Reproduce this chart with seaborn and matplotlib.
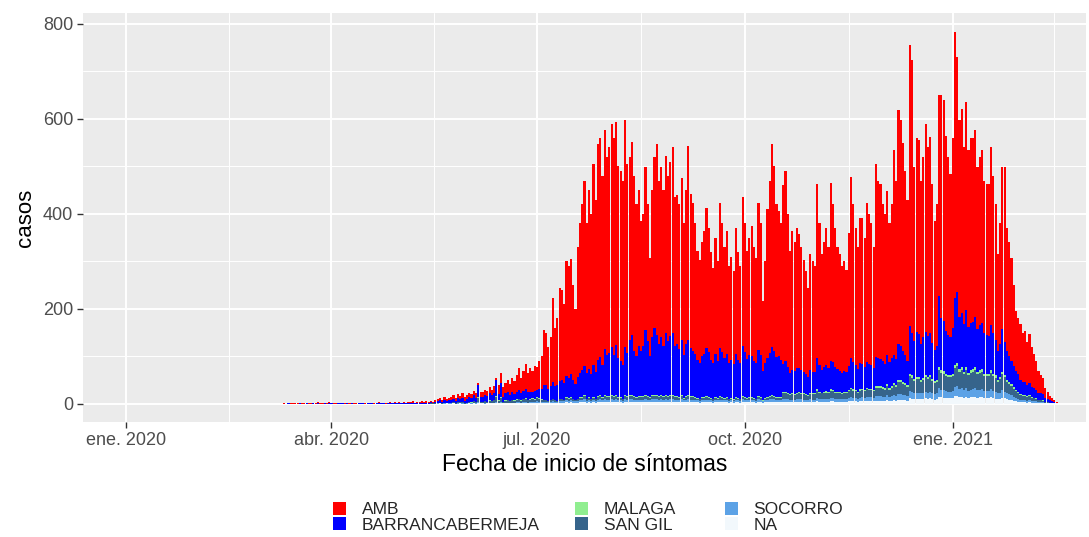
import pandas as pd
import numpy as np
import seaborn as sns
import matplotlib.pyplot as plt
import matplotlib.dates as mdates
from matplotlib.patches import Patch

# --- daily cases by symptom onset, one row per week, first day 2020-03-08 ---

amb = [
    0, 0, 0, 1, 0, 1, 1,
    1, 2, 1, 2, 2, 1, 1,
    2, 1, 2, 2, 3, 1, 2,
    2, 2, 3, 2, 2, 1, 2,
    1, 2, 1, 1, 1, 1, 1,
    1, 1, 2, 1, 1, 1, 2,
    1, 1, 2, 2, 1, 2, 1,
    2, 2, 1, 3, 2, 2, 1,
    2, 2, 3, 2, 3, 2, 3,
    3, 3, 2, 4, 3, 3, 2,
    4, 4, 4, 5, 5, 5, 5,
    6, 7, 6, 7, 6, 9, 7,
    8, 9, 8, 10, 9, 5, 10,
    10, 11, 11, 13, 12, 14, 4,
    20, 21, 20, 23, 25, 23, 30,
    28, 35, 46, 33, 42, 53, 40,
    50, 44, 52, 48, 58, 68, 116,
    110, 88, 103, 178, 122, 140, 196,
    189, 166, 241, 235, 242, 200, 158,
    273, 314, 349, 391, 315, 377, 337,
    425, 363, 456, 460, 399, 461, 418,
    433, 470, 458, 468, 404, 400, 388,
    477, 399, 385, 406, 368, 320, 328,
    274, 278, 343, 288, 208, 310, 360,
    403, 343, 358, 328, 373, 348, 367,
    390, 313, 313, 304, 340, 277, 323,
    409, 326, 310, 274, 230, 215, 239,
    259, 296, 262, 227, 200, 244, 210,
    307, 271, 234, 259, 203, 217, 196,
    265, 227, 203, 312, 271, 229, 247,
    274, 240, 221, 309, 277, 148, 214,
    314, 362, 428, 389, 321, 306, 287,
    375, 400, 322, 257, 293, 271, 296,
    283, 259, 235, 217, 188, 245, 233,
    223, 368, 299, 244, 263, 289, 255,
    375, 332, 293, 257, 246, 225, 231,
    214, 280, 381, 331, 289, 256, 306,
    308, 272, 333, 316, 298, 255, 407,
    373, 369, 330, 315, 346, 292, 323,
    430, 376, 492, 475, 438, 389, 339,
    591, 574, 366, 408, 408, 344, 380,
    439, 398, 412, 336, 273, 299, 423,
    469, 466, 411, 374, 344, 401, 561,
    494, 414, 428, 372, 438, 373, 389,
    387, 394, 340, 354, 363, 321, 318,
    320, 373, 331, 285, 205, 253, 340,
    367, 260, 239, 217, 170, 127, 116,
    118, 103, 107, 90, 103, 84, 72,
    60, 46, 38, 35, 22, 15, 9,
    6, 3, 2,
]

barranca = [
    0, 0, 0, 0, 0, 1, 0,
    0, 0, 0, 1, 0, 0, 1,
    0, 0, 1, 0, 1, 0, 0,
    1, 0, 1, 1, 0, 0, 1,
    1, 1, 0, 1, 0, 1, 0,
    0, 1, 1, 1, 0, 1, 1,
    1, 0, 1, 2, 1, 1, 0,
    1, 2, 1, 2, 1, 2, 1,
    2, 1, 2, 2, 3, 1, 2,
    2, 3, 2, 3, 2, 3, 2,
    3, 4, 5, 3, 6, 4, 5,
    6, 7, 5, 8, 6, 9, 5,
    7, 10, 8, 12, 9, 25, 10,
    10, 12, 11, 14, 12, 15, 35,
    12, 30, 10, 14, 16, 12, 16,
    12, 15, 18, 14, 17, 20, 16,
    15, 14, 18, 16, 20, 22, 30,
    31, 25, 28, 35, 29, 33, 38,
    40, 35, 45, 43, 48, 39, 33,
    46, 51, 56, 61, 54, 58, 52,
    66, 56, 76, 81, 66, 96, 86,
    91, 101, 86, 106, 81, 76, 71,
    101, 91, 116, 126, 96, 86, 106,
    96, 106, 136, 116, 86, 121, 141,
    126, 111, 121, 106, 131, 116, 124,
    131, 106, 111, 101, 116, 91, 111,
    116, 101, 96, 91, 81, 76, 86,
    91, 101, 94, 81, 76, 91, 78,
    101, 94, 84, 91, 76, 81, 74,
    91, 81, 76, 106, 94, 82, 88,
    86, 78, 76, 96, 88, 61, 74,
    81, 91, 101, 94, 84, 86, 78,
    60, 65, 55, 45, 50, 48, 52,
    50, 48, 45, 42, 38, 48, 45,
    45, 65, 55, 48, 52, 55, 50,
    60, 58, 52, 48, 45, 42, 44,
    42, 50, 62, 58, 52, 48, 55,
    52, 48, 55, 52, 50, 45, 62,
    60, 58, 55, 52, 62, 55, 60,
    60, 55, 75, 72, 65, 58, 52,
    100, 90, 80, 95, 90, 75, 85,
    90, 85, 88, 75, 65, 70, 150,
    110, 105, 90, 85, 80, 95, 140,
    150, 110, 115, 100, 120, 95, 100,
    100, 105, 90, 95, 98, 85, 82,
    80, 95, 85, 75, 60, 70, 90,
    70, 60, 55, 50, 45, 40, 38,
    30, 28, 28, 24, 26, 22, 20,
    18, 15, 13, 12, 8, 6, 5,
    4, 3, 2,
]

san_gil = [
    0, 0, 0, 0, 0, 0, 0,
    0, 0, 0, 0, 0, 0, 0,
    0, 0, 0, 0, 0, 0, 0,
    0, 0, 0, 0, 0, 0, 0,
    0, 0, 0, 0, 0, 0, 0,
    0, 0, 0, 0, 0, 0, 0,
    0, 0, 0, 0, 0, 0, 0,
    0, 0, 0, 0, 0, 0, 0,
    0, 0, 0, 0, 0, 0, 0,
    0, 0, 0, 0, 0, 1, 1,
    1, 1, 2, 1, 2, 1, 2,
    2, 2, 1, 3, 2, 3, 2,
    2, 3, 2, 3, 3, 8, 3,
    3, 4, 3, 4, 4, 5, 10,
    4, 8, 3, 4, 5, 4, 5,
    4, 5, 6, 4, 5, 6, 5,
    5, 6, 5, 7, 6, 5, 4,
    3, 2, 3, 4, 3, 2, 4,
    3, 2, 4, 4, 4, 3, 2,
    3, 4, 4, 5, 3, 4, 3,
    4, 3, 5, 5, 4, 6, 5,
    5, 6, 5, 6, 4, 4, 3,
    6, 5, 6, 6, 5, 4, 5,
    5, 5, 6, 5, 4, 6, 6,
    6, 5, 6, 5, 6, 5, 6,
    6, 5, 5, 4, 6, 3, 5,
    6, 5, 5, 4, 3, 3, 4,
    4, 5, 4, 3, 3, 4, 3,
    5, 4, 3, 4, 3, 3, 2,
    4, 3, 3, 5, 4, 3, 4,
    4, 3, 3, 5, 4, 1, 3,
    4, 5, 6, 5, 4, 4, 4,
    12, 13, 11, 10, 11, 10, 11,
    12, 11, 11, 10, 9, 11, 11,
    11, 15, 13, 12, 12, 13, 12,
    15, 14, 13, 12, 12, 11, 12,
    12, 14, 16, 15, 14, 13, 15,
    15, 14, 16, 15, 15, 14, 18,
    18, 18, 17, 16, 19, 16, 18,
    22, 20, 26, 25, 24, 22, 20,
    32, 30, 26, 28, 28, 25, 27,
    30, 28, 30, 27, 24, 25, 38,
    35, 34, 32, 30, 30, 32, 40,
    42, 36, 38, 34, 38, 33, 35,
    36, 38, 34, 35, 36, 32, 32,
    32, 35, 32, 30, 25, 28, 33,
    30, 25, 22, 20, 17, 14, 13,
    10, 9, 9, 8, 9, 7, 6,
    5, 4, 4, 3, 2, 2, 1,
    1, 1, 0,
]

socorro = [
    0, 0, 0, 0, 0, 0, 0,
    0, 0, 0, 0, 0, 0, 0,
    0, 0, 0, 0, 0, 0, 0,
    0, 0, 0, 0, 0, 0, 0,
    0, 0, 0, 0, 0, 0, 0,
    0, 0, 0, 0, 0, 0, 0,
    0, 0, 0, 0, 0, 0, 0,
    0, 0, 0, 0, 0, 0, 0,
    0, 0, 0, 0, 0, 0, 0,
    0, 0, 0, 0, 0, 0, 0,
    0, 1, 0, 0, 1, 0, 1,
    1, 1, 0, 1, 1, 1, 0,
    1, 1, 1, 2, 1, 4, 1,
    1, 2, 1, 2, 1, 2, 4,
    2, 4, 1, 2, 2, 2, 2,
    2, 2, 3, 2, 3, 3, 2,
    2, 3, 2, 3, 3, 2, 2,
    3, 2, 3, 3, 3, 2, 3,
    4, 3, 4, 4, 5, 4, 3,
    4, 5, 5, 6, 4, 5, 4,
    5, 4, 5, 6, 5, 6, 5,
    5, 6, 5, 6, 5, 5, 4,
    6, 5, 6, 6, 5, 5, 5,
    5, 5, 6, 5, 5, 6, 6,
    6, 5, 6, 5, 6, 5, 6,
    6, 5, 5, 5, 6, 4, 5,
    6, 5, 5, 5, 4, 4, 5,
    5, 5, 5, 4, 4, 5, 4,
    5, 5, 4, 5, 4, 4, 4,
    5, 4, 4, 5, 5, 4, 5,
    5, 4, 4, 5, 5, 3, 4,
    5, 5, 6, 5, 5, 5, 5,
    6, 6, 5, 5, 5, 5, 5,
    6, 5, 5, 5, 4, 5, 5,
    5, 7, 6, 5, 6, 6, 6,
    7, 7, 6, 6, 6, 5, 6,
    6, 7, 8, 7, 7, 6, 7,
    8, 7, 8, 8, 8, 7, 9,
    9, 9, 8, 8, 10, 8, 9,
    10, 9, 12, 12, 11, 10, 9,
    15, 14, 12, 13, 13, 12, 13,
    14, 13, 14, 12, 11, 12, 18,
    16, 16, 15, 14, 14, 15, 19,
    20, 17, 18, 16, 18, 15, 16,
    17, 18, 16, 16, 17, 15, 15,
    15, 17, 15, 14, 12, 13, 16,
    14, 12, 11, 10, 8, 7, 6,
    5, 4, 4, 4, 4, 3, 3,
    3, 2, 2, 2, 1, 1, 1,
    1, 0, 0,
]

malaga = [
    0, 0, 0, 0, 0, 0, 0,
    0, 0, 0, 0, 0, 0, 0,
    0, 0, 0, 0, 0, 0, 0,
    0, 0, 0, 0, 0, 0, 0,
    0, 0, 0, 0, 0, 0, 0,
    0, 0, 0, 0, 0, 0, 0,
    0, 0, 0, 0, 0, 0, 0,
    0, 0, 0, 0, 0, 0, 0,
    0, 0, 0, 0, 0, 0, 0,
    0, 0, 0, 0, 0, 0, 0,
    0, 0, 0, 0, 0, 0, 0,
    0, 0, 0, 1, 0, 0, 0,
    0, 0, 1, 0, 0, 1, 0,
    0, 1, 0, 1, 0, 1, 1,
    1, 1, 0, 1, 1, 0, 1,
    1, 1, 1, 1, 1, 1, 1,
    1, 1, 1, 1, 1, 1, 1,
    1, 1, 1, 1, 1, 1, 1,
    1, 1, 2, 1, 2, 1, 1,
    1, 2, 2, 2, 1, 2, 1,
    2, 1, 2, 2, 2, 2, 2,
    2, 2, 2, 2, 2, 2, 1,
    2, 2, 2, 2, 2, 1, 2,
    2, 2, 2, 2, 1, 2, 2,
    2, 2, 2, 2, 2, 2, 2,
    2, 2, 2, 2, 2, 1, 2,
    2, 2, 2, 2, 1, 1, 2,
    2, 2, 2, 1, 1, 2, 1,
    2, 2, 1, 2, 1, 1, 1,
    2, 1, 1, 2, 2, 1, 2,
    2, 1, 1, 2, 2, 1, 1,
    2, 2, 2, 2, 2, 2, 2,
    2, 2, 2, 2, 2, 2, 2,
    2, 2, 2, 2, 2, 2, 2,
    2, 3, 2, 2, 2, 3, 2,
    3, 3, 2, 2, 2, 2, 2,
    2, 3, 3, 3, 3, 2, 3,
    3, 3, 3, 3, 3, 3, 3,
    3, 3, 3, 3, 4, 3, 3,
    4, 3, 4, 4, 4, 4, 3,
    5, 5, 4, 5, 5, 4, 4,
    5, 5, 5, 4, 4, 4, 6,
    6, 6, 5, 5, 5, 5, 7,
    7, 6, 6, 5, 6, 5, 6,
    6, 6, 5, 6, 6, 5, 5,
    5, 6, 5, 5, 4, 5, 6,
    5, 4, 4, 3, 3, 2, 2,
    2, 2, 2, 1, 2, 1, 1,
    1, 1, 1, 1, 0, 0, 0,
    0, 0, 0,
]

sin_dato = [
    0, 0, 0, 0, 0, 0, 0,
    0, 0, 0, 0, 0, 0, 0,
    0, 0, 0, 0, 0, 0, 0,
    0, 0, 0, 0, 0, 0, 0,
    0, 0, 0, 0, 0, 0, 0,
    0, 0, 0, 0, 0, 0, 0,
    0, 0, 0, 0, 0, 0, 0,
    0, 0, 0, 0, 0, 0, 0,
    0, 0, 0, 0, 0, 0, 0,
    0, 0, 0, 0, 0, 0, 0,
    0, 0, 1, 0, 0, 1, 0,
    0, 1, 0, 0, 1, 0, 0,
    0, 1, 0, 1, 0, 1, 1,
    1, 0, 1, 1, 1, 1, 1,
    1, 1, 1, 1, 1, 1, 1,
    1, 2, 1, 1, 2, 2, 1,
    2, 2, 2, 3, 2, 2, 2,
    2, 2, 2, 3, 2, 2, 3,
    3, 3, 4, 3, 4, 3, 3,
    3, 4, 4, 5, 3, 4, 3,
    4, 3, 4, 5, 4, 5, 4,
    4, 5, 4, 5, 4, 4, 3,
    5, 4, 5, 5, 4, 4, 4,
    4, 4, 5, 4, 4, 5, 5,
    5, 4, 5, 4, 5, 4, 5,
    5, 4, 4, 4, 5, 4, 4,
    5, 4, 4, 4, 4, 3, 4,
    4, 4, 4, 4, 3, 4, 4,
    4, 4, 4, 4, 3, 4, 3,
    4, 4, 3, 5, 4, 4, 4,
    4, 4, 3, 5, 4, 3, 4,
    4, 5, 5, 5, 4, 4, 4,
    5, 5, 5, 4, 4, 4, 5,
    5, 5, 4, 4, 4, 5, 4,
    4, 6, 5, 5, 5, 5, 5,
    6, 6, 5, 5, 5, 5, 5,
    5, 6, 7, 6, 6, 5, 6,
    6, 6, 7, 6, 6, 6, 7,
    7, 7, 7, 6, 8, 6, 7,
    8, 7, 9, 9, 8, 8, 7,
    12, 11, 10, 11, 11, 10, 11,
    12, 11, 12, 10, 9, 10, 15,
    14, 13, 12, 12, 12, 12, 16,
    17, 14, 15, 13, 15, 13, 14,
    14, 15, 13, 14, 14, 12, 12,
    12, 14, 12, 11, 10, 11, 13,
    12, 10, 9, 8, 7, 6, 5,
    4, 4, 4, 3, 4, 3, 3,
    3, 2, 2, 2, 1, 1, 1,
    1, 1, 1,
]

regiones = ['AMB', 'BARRANCABERMEJA', 'MALAGA', 'SAN GIL', 'SOCORRO', 'NA']
colores = ['#FF0000', '#0000FF', '#90EE90', '#36648B', '#5CA2E6', '#F2F8FC']
series = [amb, barranca, malaga, san_gil, socorro, sin_dato]

for s in series:
    assert len(s) == len(amb)

fechas = pd.date_range('2020-03-08', periods=len(amb), freq='D')
dias = mdates.date2num(fechas.to_pydatetime())

df = pd.concat([pd.DataFrame({'dia': dias, 'region': r, 'casos': v})
                for r, v in zip(regiones, series)], ignore_index=True)

# --- ggplot-like look ---
sns.set_theme(style='darkgrid', rc={
    'axes.facecolor': '#EBEBEB',
    'grid.color': 'white',
    'axes.edgecolor': '#EBEBEB',
    'xtick.color': '#333333',
    'ytick.color': '#333333',
})
plt.rcParams['font.family'] = ['Liberation Sans', 'DejaVu Sans']

fig = plt.figure(figsize=(10.89, 5.37), dpi=100)
ax = fig.add_axes([83 / 1089, 1 - 422 / 537, 1003 / 1089, 409 / 537])

sns.histplot(data=df, x='dia', weights='casos', hue='region', hue_order=regiones,
             palette=dict(zip(regiones, colores)), multiple='stack', discrete=True,
             shrink=0.95, alpha=1, linewidth=0, edgecolor='none', legend=False, ax=ax)

ax.set_xlim(mdates.date2num(pd.Timestamp('2019-12-13')),
            mdates.date2num(pd.Timestamp('2021-03-01')))
ax.set_ylim(-38, 823)

ticks_x = pd.to_datetime(['2020-01-01', '2020-04-01', '2020-07-01', '2020-10-01', '2021-01-01'])
labels_x = ['ene. 2020', 'abr. 2020', 'jul. 2020', 'oct. 2020', 'ene. 2021']
minor_x = pd.to_datetime(['2020-02-15 12:00', '2020-05-16 12:00', '2020-08-16 00:00',
                          '2020-11-16 00:00', '2021-02-15 00:00'])
ax.set_xticks(mdates.date2num(ticks_x.to_pydatetime()))
ax.set_xticklabels(labels_x)
ax.set_xticks(mdates.date2num(minor_x.to_pydatetime()), minor=True)
ax.set_yticks([0, 200, 400, 600, 800])
ax.set_yticks([100, 300, 500, 700], minor=True)

ax.grid(which='major', color='white', linewidth=1.4)
ax.grid(which='minor', color='white', linewidth=0.7)
ax.set_axisbelow(True)
for sp in ax.spines.values():
    sp.set_visible(False)

ax.tick_params(axis='both', which='major', length=4, width=1, direction='out',
               labelsize=13, labelcolor='#4D4D4D', pad=3, bottom=True, left=True)
ax.tick_params(axis='both', which='minor', length=0)

ax.set_xlabel('Fecha de inicio de síntomas', fontsize=16.5, color='black', labelpad=3)
ax.set_ylabel('casos', fontsize=16, color='black', labelpad=5)

# legend in three columns at the bottom
lx = [333, 575, 725]
for i, x0 in enumerate(lx):
    hs = [Patch(facecolor=colores[j], edgecolor='none', label=regiones[j])
          for j in (2 * i, 2 * i + 1)]
    fig.legend(handles=hs, loc='upper left', bbox_to_anchor=(x0 / 1089, 1 - 502 / 537),
               frameon=False, fontsize=12.5, handlelength=0.75, handleheight=0.75,
               handletextpad=0.9, labelspacing=0.0, borderpad=0, borderaxespad=0)

fig.savefig('out.png', dpi=100)
